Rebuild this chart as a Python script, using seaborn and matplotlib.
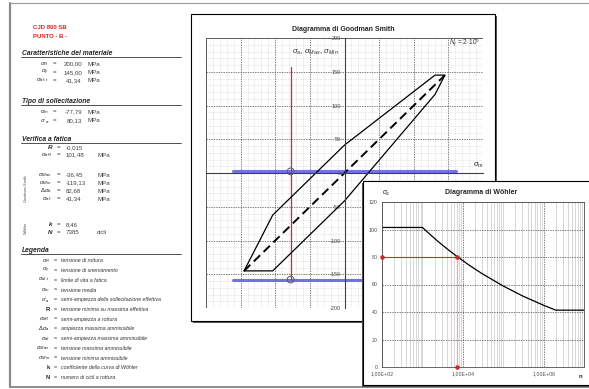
import matplotlib
matplotlib.use("Agg")
import matplotlib.pyplot as plt
import seaborn as sns
from matplotlib.patches import Rectangle
from matplotlib.ticker import MultipleLocator, LogLocator, NullFormatter, FixedLocator

# ---- data (MPa) ----
sigma_r = 200.00
sigma_y = 145.00
sigma_af = 41.34
sigma_m = -77.79
sigma_a = 80.13
sigma_max = 2.34
sigma_min = -157.92
n_fail = 7385

# Goodman-Smith envelope (sigma_m, sigma)
gs_x = [-145, -103.66, 0, 130.67, 145, 130.67, 0, -103.66, -145]
gs_y = [-145, -145, -41.34, 116.33, 145, 145, 41.34, -62.32, -145]
bis_x = [-145, 145]
bis_y = [-145, 145]
blue_x = [-161.7, 161.7]
red_y = [sigma_min, 157.5]

# Woehler curve (cycles, sigma_a)
wohler_n = [1e2, 1e3, 2e3, 3e3, 5e3, 7385, 1.5e4, 3e4, 1e5, 3e5, 1e6, 2e6, 1e7]
wohler_s = [101.48, 101.48, 93.5, 89.1, 83.9, 80.13, 73.7, 67.9, 58.9, 51.7, 44.9, 41.34, 41.34]

# left panel text
mat_labels = [r"$\sigma_R$", r"$\sigma_y$", r"$\sigma_{af,t}$"]
mat_values = ["200,00", "145,00", "41,34"]
load_labels = [r"$\sigma_m$", r"$\sigma'_a$"]
load_values = ["-77,79", "80,13"]
chk_labels = ["R", r"$\sigma_{aR}$", r"$\sigma_{Max}$", r"$\sigma_{Min}$",
              r"$\Delta\sigma_a$", r"$\sigma_{af}$", "k", "N"]
chk_values = ["-0,015", "101,48", "-36,45", "-119,13", "82,68", "41,34", "8,46", "7385"]
chk_units = ["", "MPa", "MPa", "MPa", "MPa", "MPa", "", "cicli"]
leg_labels = [r"$\sigma_R$", r"$\sigma_y$", r"$\sigma_{af,t}$", r"$\sigma_m$", r"$\sigma'_a$", "R",
              r"$\sigma_{aR}$", r"$\Delta\sigma_a$", r"$\sigma_{af}$", r"$\sigma_{Max}$",
              r"$\sigma_{Min}$", "k", "N"]
leg_texts = ["tensione di rottura", "tensione di snervamento", "limite di vita a fatica",
             "tensione media", "semi-ampiezza della sollecitazione effettiva",
             "tensione minima su massima effettiva", "semi-ampiezza a rottura",
             "ampiezza massima ammissibile", "semi-ampiezza massima ammissibile",
             "tensione massima ammissibile", "tensione minima ammissibile",
             "coefficiente della curva di Wöhler", "numero di cicli a rottura"]

sns.set_style("white")
plt.rcParams["font.family"] = ["Liberation Sans", "DejaVu Sans"]
plt.rcParams["mathtext.fontset"] = "custom"
plt.rcParams["mathtext.rm"] = "Liberation Sans"
plt.rcParams["mathtext.it"] = "Liberation Sans:italic"
plt.rcParams["mathtext.bf"] = "Liberation Sans:bold"

W, H = 589, 389
fig = plt.figure(figsize=(W / 100, H / 100), dpi=100)


def px_axes(x0, y0, x1, y1, **kw):
    return fig.add_axes([x0 / W, 1 - y1 / H, (x1 - x0) / W, (y1 - y0) / H], **kw)


# ---- background: page + left panel + Goodman frame ----
bg = fig.add_axes([0, 0, 1, 1], zorder=0)
bg.set_xlim(0, W)
bg.set_ylim(H, 0)
bg.axis("off")
bg.plot([10, 10], [3, 387], color="0.55", lw=1.6)
bg.plot([10, W], [3, 3], color="0.6", lw=0.8)
bg.plot([10, W], [387, 387], color="0.55", lw=1.4)

bg.text(33, 27, "CJD 800 SB", color="#e02020", fontsize=4.3, fontweight="bold", va="center")
bg.text(33, 36, "PUNTO - B -", color="#e02020", fontsize=4.3, fontweight="bold", va="center")

fs = 4.4
lfs = 4.5
for title, yy in [("Caratteristiche del materiale", 53), ("Tipo di sollecitazione", 101),
                  ("Verifica a fatica", 139), ("Legenda", 250)]:
    bg.text(22, yy, title, fontsize=4.9, fontweight="bold", style="italic", va="center")
    bg.plot([21, 181], [yy + 4, yy + 4], color="0.2", lw=0.6)

for lab, val, yy in zip(mat_labels + load_labels, mat_values + load_values,
                        [64, 72.5, 80.5, 112, 120.5]):
    bg.text(49, yy, lab, fontsize=lfs, ha="right", va="center")
    bg.text(55, yy, "=", fontsize=fs, ha="center", va="center")
    bg.text(82, yy, val, fontsize=fs, ha="right", va="center", color="0.25")
    bg.text(88, yy, "MPa", fontsize=fs, va="center", color="0.25")

for lab, val, unit, yy in zip(chk_labels, chk_values, chk_units,
                              [147.5, 155, 175, 183, 191, 199, 224.5, 232.5]):
    bg.text(52, yy, lab, fontsize=lfs, ha="right", va="center", style="italic", fontweight="bold")
    bg.text(59, yy, "=", fontsize=fs, ha="center", va="center")
    bg.text(66, yy, val, fontsize=fs, ha="left", va="center", color="0.25")
    bg.text(97, yy, unit, fontsize=fs, va="center", color="0.25")
bg.text(26, 188, "Goodman-Smith", fontsize=2.8, rotation=90, ha="center", va="center", color="0.3")
bg.text(26, 228, "Wöhler", fontsize=2.8, rotation=90, ha="center", va="center", color="0.3")

for i, (lab, txt) in enumerate(zip(leg_labels, leg_texts)):
    yy = 261 + i * 9.7
    bg.text(50, yy, lab, fontsize=4.3, ha="right", va="center", fontweight="bold")
    bg.text(55.5, yy, "=", fontsize=3.9, ha="center", va="center")
    bg.text(61, yy, txt, fontsize=3.8, style="italic", va="center", color="0.2")

bg.add_patch(Rectangle((193, 16), 304, 307, color="0.35", lw=0))
bg.add_patch(Rectangle((191, 14), 304, 307, facecolor="white", edgecolor="black", lw=0.8))
bg.text(343, 29, "Diagramma di Goodman Smith", fontsize=5, fontweight="bold", ha="center", va="center")

# ---- Goodman-Smith diagram ----
ax = px_axes(206, 38, 483, 308, zorder=1)
ax.set_xlim(-200, 200)
ax.set_ylim(-200, 200)
ax.set_axisbelow(True)
ax.xaxis.set_major_locator(MultipleLocator(50))
ax.xaxis.set_minor_locator(MultipleLocator(10))
ax.yaxis.set_major_locator(MultipleLocator(50))
ax.yaxis.set_minor_locator(MultipleLocator(10))
ax.grid(which="major", ls=(0, (2, 1.5)), color="0.3", lw=0.5)
ax.grid(which="minor", ls=(0, (1, 2)), color="0.72", lw=0.4)
for s in ["top", "right"]:
    ax.spines[s].set_visible(False)
ax.spines["left"].set_position(("data", 0))
ax.spines["bottom"].set_position(("data", 0))
for s in ["left", "bottom"]:
    ax.spines[s].set_color("0.25")
    ax.spines[s].set_linewidth(0.8)
ax.add_patch(Rectangle((0, 0), 1, 1, transform=ax.transAxes, fill=False, ec="0.3", lw=0.6))
ax.tick_params(which="both", direction="inout", colors="0.3", labelsize=4, pad=1)
ax.tick_params(which="major", length=3, width=0.5)
ax.tick_params(which="minor", length=2, width=0.5)
ax.set_xticklabels([])
ax.set_yticks([-200, -150, -100, -50, 0, 50, 100, 150, 200])
ax.set_yticklabels(["-200", "-150", "-100", "-50", "0", "50", "100", "150", "200"])
ax.yaxis.set_minor_formatter(NullFormatter())

sns.lineplot(x=blue_x, y=[sigma_max, sigma_max], ax=ax, color="#5a5ae0", lw=2.2, alpha=0.85)
sns.lineplot(x=blue_x, y=[sigma_min, sigma_min], ax=ax, color="#5a5ae0", lw=2.2, alpha=0.85)
sns.lineplot(x=[sigma_m, sigma_m], y=red_y, ax=ax, color="#cc2a2a", lw=0.9, sort=False, estimator=None)
sns.lineplot(x=gs_x, y=gs_y, ax=ax, color="black", lw=0.9, sort=False, estimator=None)
sns.lineplot(x=bis_x, y=bis_y, ax=ax, color="black", lw=1.4, linestyle=(0, (4.5, 2.5)))
sns.scatterplot(x=[sigma_m, sigma_m], y=[sigma_max, sigma_min], ax=ax, s=24,
                facecolor="none", edgecolor="0.35", linewidth=0.7, zorder=5)
ax.set_xlabel("")
ax.set_ylabel("")
ax.text(0.394, 0.945, r"$\sigma_a$, $\sigma_{Max}$, $\sigma_{Min}$", transform=ax.transAxes,
        fontsize=5.6, ha="center", va="center", color="0.2")
ax.text(0.982, 0.53, r"$\sigma_m$", transform=ax.transAxes, fontsize=5.5, ha="center", va="center")
ax.text(0.935, 0.982, r"$N_f$ = 2$\cdot$10$^6$", transform=ax.transAxes, fontsize=4.8,
        ha="center", va="center", color="0.2")

# ---- Woehler inset box ----
wb = px_axes(361, 179, W, H, zorder=2)
wb.set_xlim(361, W)
wb.set_ylim(H, 179)
wb.axis("off")
wb.add_patch(Rectangle((362, 183), 240, 204, color="0.3", lw=0))
wb.add_patch(Rectangle((363, 181), 240, 204, facecolor="white", edgecolor="black", lw=0.8))
wb.text(481, 193, "Diagramma di Wöhler", fontsize=5, fontweight="bold", ha="center", va="center")
wb.text(386, 193, r"$\sigma_a$", fontsize=4.8, ha="center", va="center")
wb.text(580.5, 376, "n", fontsize=4.3, ha="center", va="center", fontweight="bold")

aw = px_axes(382, 202, 584, 367, zorder=3)
aw.set_xscale("log")
aw.set_xlim(1e2, 1e7)
aw.set_ylim(0, 120)
aw.set_axisbelow(True)
aw.xaxis.set_major_locator(FixedLocator([1e2, 1e4, 1e6]))
aw.xaxis.set_minor_locator(LogLocator(base=10, subs=[1, 2, 3, 4, 5, 6, 7, 8, 9], numticks=50))
aw.xaxis.set_minor_formatter(NullFormatter())
aw.set_xticks([1e2, 1e4, 1e6])
aw.set_xticklabels(["1,00E+02", "1,00E+04", "1,00E+06"])
aw.yaxis.set_major_locator(MultipleLocator(20))
aw.grid(which="minor", axis="x", color="0.78", lw=0.5, ls="-")
aw.grid(which="major", ls=(0, (2, 1.5)), color="0.3", lw=0.5)
for s in aw.spines.values():
    s.set_color("0.3")
    s.set_linewidth(0.6)
aw.tick_params(which="both", direction="out", colors="0.3", labelsize=3.8, pad=1, length=2, width=0.5)
aw.tick_params(which="minor", length=0)

sns.lineplot(x=wohler_n, y=wohler_s, ax=aw, color="black", lw=0.9, sort=False, estimator=None)
sns.lineplot(x=[1e2, n_fail], y=[sigma_a, sigma_a], ax=aw, color="#cc2a2a", lw=0.8)
sns.lineplot(x=[n_fail, n_fail], y=[0, sigma_a], ax=aw, color="#cc2a2a", lw=0.8)
sns.scatterplot(x=[1e2, n_fail, n_fail], y=[sigma_a, sigma_a, 0], ax=aw, s=9,
                color="#cc2a2a", edgecolor="#cc2a2a", zorder=5, clip_on=False)
aw.set_xlabel("")
aw.set_ylabel("")

fig.savefig("out.png", dpi=100)
